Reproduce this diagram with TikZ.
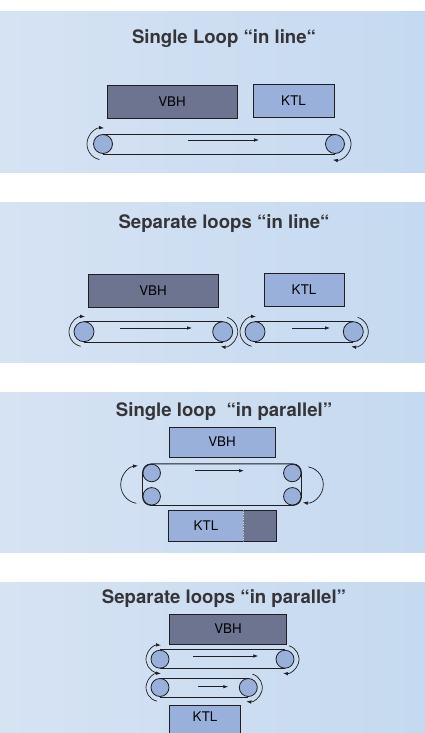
\documentclass[tikz,border=0pt]{standalone}
\usepackage{fontspec}
\setmainfont{TeX Gyre Heros}
\usetikzlibrary{positioning,calc,arrows.meta}

\definecolor{panelL}{RGB}{214,227,243}
\definecolor{panelR}{RGB}{197,217,240}
\definecolor{slate}{RGB}{108,116,143}
\definecolor{pale}{RGB}{152,176,218}
\definecolor{ink}{RGB}{30,30,35}

\tikzset{
  panel/.style={left color=panelL, right color=panelR},
  title/.style={anchor=base, text=ink!90, font=\bfseries\fontsize{18.6}{22}\selectfont},
  darkbox/.style={draw=ink, fill=slate, line width=.9pt, inner sep=0pt,
    font=\fontsize{13.3}{15}\selectfont},
  lightbox/.style={darkbox, fill=pale},
  roller/.style={circle, draw=ink, fill=pale, line width=.8pt, inner sep=0pt},
  belt/.style={draw=ink, line width=.8pt},
  turn/.style={->, draw=ink, line width=.7pt},
}

\begin{document}
\begin{tikzpicture}[x=1pt, y=-1pt, >={Latex[length=5pt,width=3.6pt]}]
    \clip (0,0) rectangle (425,733);
    \foreach \py in {12,202,392,582}
        \fill[panel] (0,\py) rectangle (425,\py+160);

    % single loop, in line
    \node[title] (t1) at (224,43.5) {Single Loop “in line“};
    \node[darkbox, minimum width=130pt, minimum height=33pt] (vbh1) at (172,101.5) {VBH};
    \node[lightbox, minimum width=81pt, minimum height=33pt] (ktl1) at (293.5,100.5) {KTL};
    \node[roller, minimum size=19pt] (a1) at (103,144) {};
    \node[roller, minimum size=19pt] (b1) at (335,144) {};
    \draw[belt] (a1.north) -- (b1.north) (a1.south) -- (b1.south);
    \draw[belt, ->] (188,140) -- (259,140);
    \draw[turn] (a1) ++(103:16) arc[start angle=103, end angle=274, radius=16];
    \draw[turn] (b1) ++(-73:16) arc[start angle=-73, end angle=98, radius=16];

    % separate loops, in line
    \node[title] (t2) at (224,228.3) {Separate loops “in line“};
    \node[darkbox, minimum width=130pt, minimum height=33pt] (vbh2) at (153,291) {VBH};
    \node[lightbox, minimum width=80pt, minimum height=33pt] (ktl2) at (304,290) {KTL};
    \node[roller, minimum size=20pt] (a2) at (84,331.7) {};
    \node[roller, minimum size=20pt] (b2) at (222.7,331.7) {};
    \node[roller, minimum size=20pt] (c2) at (255,331.7) {};
    \node[roller, minimum size=20pt] (d2) at (353.3,331.7) {};
    \draw[belt] (a2.north) -- (b2.north) (a2.south) -- (b2.south);
    \draw[belt] (c2.north) -- (d2.north) (c2.south) -- (d2.south);
    \draw[belt, ->] (120,328) -- (192,328);
    \draw[belt, ->] (292,328) -- (330,328);
    \foreach \r in {a2,c2}
        \draw[turn] (\r) ++(103:15) arc[start angle=103, end angle=274, radius=15];
    \foreach \r in {b2,d2}
        \draw[turn] (\r) ++(-73:15) arc[start angle=-73, end angle=98, radius=15];

    % single loop, in parallel
    \node[title] (t3) at (224,416.5) {Single loop\ \ “in parallel”};
    \node[lightbox, minimum width=106pt, minimum height=30pt] (vbh3) at (222,442) {VBH};
    \node[roller, minimum size=17.5pt] (p3) at (151.7,473) {};
    \node[roller, minimum size=17.5pt] (q3) at (151.7,496.3) {};
    \node[roller, minimum size=17.5pt] (r3) at (292.3,473) {};
    \node[roller, minimum size=17.5pt] (s3) at (292.3,496.3) {};
    \draw[belt, rounded corners=8.5pt] (p3.west |- p3.north) rectangle (s3.east |- s3.south);
    \draw[belt, ->] (195,470.7) -- (244,470.7);
    \coordinate (w3) at ($(p3)!.5!(q3)+(-12,0)$);
    \coordinate (e3) at ($(r3)!.5!(s3)+(13,0)$);
    \draw[turn] (w3) ++(100:19) arc[start angle=100, end angle=265, radius=19];
    \draw[turn] (e3) ++(-80:18) arc[start angle=-80, end angle=98, radius=18];
    \node[lightbox, draw=none, minimum width=73.5pt, minimum height=30.5pt] (ktl3) at (205.9,526) {KTL};
    \node[darkbox, draw=none, minimum width=32.5pt, minimum height=30.5pt, right=0pt of ktl3] (rest3) {};
    \draw[ink, line width=.9pt] (ktl3.north west) rectangle (rest3.south east);
    \draw[ink!55, dashed, dash pattern=on 1.5pt off 1pt, line width=.8pt] (ktl3.north east) -- (ktl3.south east);

    % separate loops, in parallel
    \node[title] (t4) at (224,603) {Separate loops “in parallel”};
    \node[darkbox, minimum width=117pt, minimum height=30pt] (vbh4) at (228,629) {VBH};
    \node[roller, minimum size=18pt] (a4) at (160,659.2) {};
    \node[roller, minimum size=18pt] (b4) at (285,659.2) {};
    \node[roller, minimum size=18pt] (c4) at (160,687.5) {};
    \node[roller, minimum size=18pt] (d4) at (248.3,687.5) {};
    \draw[belt] (a4.north) -- (b4.north) (a4.south) -- (b4.south);
    \draw[belt] (c4.north) -- (d4.north) (c4.south) -- (d4.south);
    \draw[belt, ->] (193.3,656) -- (258.3,656);
    \draw[belt, ->] (198.3,686.7) -- (228.3,686.7);
    \foreach \r in {a4,c4}
        \draw[turn] (\r) ++(103:14) arc[start angle=103, end angle=274, radius=14];
    \foreach \r in {b4,d4}
        \draw[turn] (\r) ++(-73:14) arc[start angle=-73, end angle=98, radius=14];
    \node[lightbox, minimum width=71.5pt, minimum height=30pt, text depth=6pt] (ktl4) at (205,720) {KTL};
\end{tikzpicture}
\end{document}
